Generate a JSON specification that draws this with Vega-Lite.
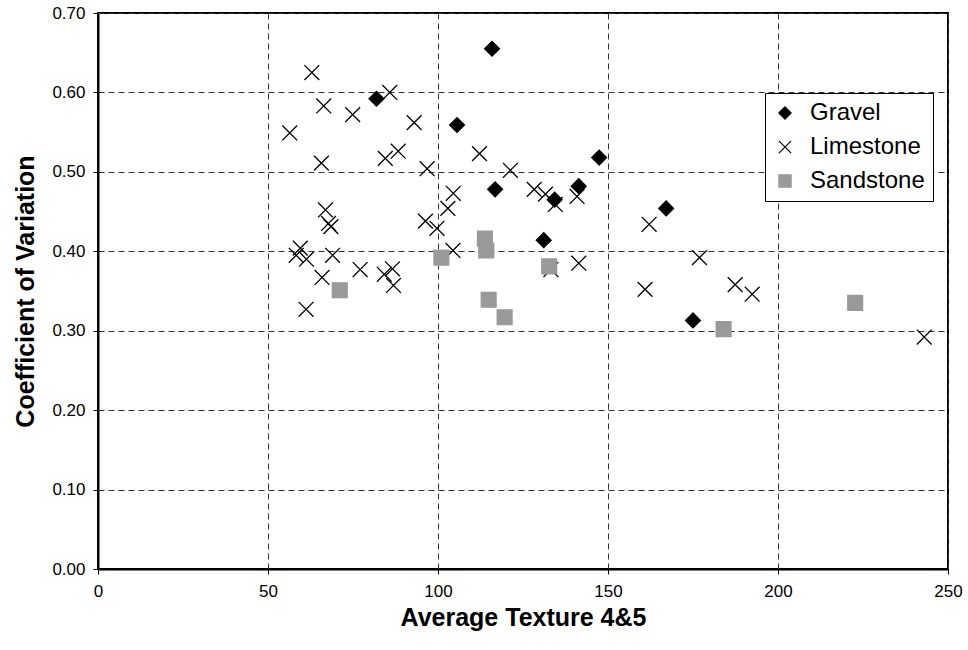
{
  "$schema": "https://vega.github.io/schema/vega-lite/v6.json",
  "width": 850,
  "height": 556,
  "autosize": {"type": "none"},
  "padding": {"left": 98, "top": 13, "right": 20, "bottom": 81},
  "background": "white",
  "config": {
    "font": "Liberation Sans",
    "view": {"stroke": "black", "strokeWidth": 2},
    "axis": {
      "labelFont": "Liberation Sans",
      "labelFontSize": 17,
      "labelColor": "black",
      "titleFont": "Liberation Sans",
      "titleFontSize": 25,
      "titleFontWeight": "bold",
      "titleColor": "black",
      "domainColor": "black",
      "domainWidth": 2,
      "tickColor": "black",
      "tickSize": 5,
      "tickWidth": 1,
      "gridColor": "#333333",
      "gridDash": [6, 4],
      "gridWidth": 1,
      "gridOpacity": 1
    },
    "legend": {
      "labelFont": "Liberation Sans",
      "labelFontSize": 24,
      "labelColor": "black"
    }
  },
  "data": {
    "values": [
      {"rock": "Gravel", "texture": 81.9, "cv": 0.592},
      {"rock": "Gravel", "texture": 105.6, "cv": 0.559},
      {"rock": "Gravel", "texture": 115.9, "cv": 0.655},
      {"rock": "Gravel", "texture": 116.8, "cv": 0.478},
      {"rock": "Gravel", "texture": 131.1, "cv": 0.414},
      {"rock": "Gravel", "texture": 134.3, "cv": 0.465},
      {"rock": "Gravel", "texture": 141.4, "cv": 0.482},
      {"rock": "Gravel", "texture": 147.4, "cv": 0.518},
      {"rock": "Gravel", "texture": 167.1, "cv": 0.454},
      {"rock": "Gravel", "texture": 175.0, "cv": 0.313},
      {"rock": "Limestone", "texture": 56.4, "cv": 0.549},
      {"rock": "Limestone", "texture": 62.9, "cv": 0.625},
      {"rock": "Limestone", "texture": 66.4, "cv": 0.583},
      {"rock": "Limestone", "texture": 74.9, "cv": 0.572},
      {"rock": "Limestone", "texture": 85.8, "cv": 0.600},
      {"rock": "Limestone", "texture": 93.0, "cv": 0.562},
      {"rock": "Limestone", "texture": 88.3, "cv": 0.526},
      {"rock": "Limestone", "texture": 84.5, "cv": 0.517},
      {"rock": "Limestone", "texture": 65.7, "cv": 0.511},
      {"rock": "Limestone", "texture": 112.2, "cv": 0.523},
      {"rock": "Limestone", "texture": 96.8, "cv": 0.504},
      {"rock": "Limestone", "texture": 104.5, "cv": 0.473},
      {"rock": "Limestone", "texture": 102.9, "cv": 0.454},
      {"rock": "Limestone", "texture": 66.9, "cv": 0.452},
      {"rock": "Limestone", "texture": 67.8, "cv": 0.435},
      {"rock": "Limestone", "texture": 68.5, "cv": 0.431},
      {"rock": "Limestone", "texture": 96.3, "cv": 0.438},
      {"rock": "Limestone", "texture": 99.7, "cv": 0.429},
      {"rock": "Limestone", "texture": 104.4, "cv": 0.401},
      {"rock": "Limestone", "texture": 58.3, "cv": 0.395},
      {"rock": "Limestone", "texture": 59.5, "cv": 0.404},
      {"rock": "Limestone", "texture": 61.3, "cv": 0.390},
      {"rock": "Limestone", "texture": 69.0, "cv": 0.395},
      {"rock": "Limestone", "texture": 65.9, "cv": 0.367},
      {"rock": "Limestone", "texture": 77.1, "cv": 0.377},
      {"rock": "Limestone", "texture": 84.2, "cv": 0.371},
      {"rock": "Limestone", "texture": 86.6, "cv": 0.378},
      {"rock": "Limestone", "texture": 86.9, "cv": 0.357},
      {"rock": "Limestone", "texture": 61.2, "cv": 0.327},
      {"rock": "Limestone", "texture": 121.3, "cv": 0.502},
      {"rock": "Limestone", "texture": 128.3, "cv": 0.478},
      {"rock": "Limestone", "texture": 131.6, "cv": 0.472},
      {"rock": "Limestone", "texture": 134.5, "cv": 0.459},
      {"rock": "Limestone", "texture": 140.9, "cv": 0.469},
      {"rock": "Limestone", "texture": 133.2, "cv": 0.377},
      {"rock": "Limestone", "texture": 141.4, "cv": 0.385},
      {"rock": "Limestone", "texture": 162.1, "cv": 0.434},
      {"rock": "Limestone", "texture": 176.9, "cv": 0.392},
      {"rock": "Limestone", "texture": 160.9, "cv": 0.352},
      {"rock": "Limestone", "texture": 187.4, "cv": 0.358},
      {"rock": "Limestone", "texture": 192.4, "cv": 0.346},
      {"rock": "Limestone", "texture": 243.0, "cv": 0.292},
      {"rock": "Sandstone", "texture": 71.1, "cv": 0.351},
      {"rock": "Sandstone", "texture": 101.0, "cv": 0.392},
      {"rock": "Sandstone", "texture": 113.8, "cv": 0.416},
      {"rock": "Sandstone", "texture": 114.2, "cv": 0.401},
      {"rock": "Sandstone", "texture": 114.9, "cv": 0.339},
      {"rock": "Sandstone", "texture": 119.6, "cv": 0.317},
      {"rock": "Sandstone", "texture": 132.7, "cv": 0.381},
      {"rock": "Sandstone", "texture": 184.0, "cv": 0.302},
      {"rock": "Sandstone", "texture": 222.7, "cv": 0.335}
    ]
  },
  "mark": {"type": "point", "size": 220, "strokeWidth": 1.3, "opacity": 1},
  "encoding": {
    "x": {
      "field": "texture",
      "type": "quantitative",
      "title": "Average Texture 4&5",
      "scale": {"domain": [0, 250], "nice": false, "zero": false},
      "axis": {"values": [0, 50, 100, 150, 200, 250], "labelPadding": 9, "titlePadding": 6, "labelFlush": false}
    },
    "y": {
      "field": "cv",
      "type": "quantitative",
      "title": "Coefficient of Variation",
      "scale": {"domain": [0, 0.7], "nice": false},
      "axis": {"values": [0, 0.1, 0.2, 0.3, 0.4, 0.5, 0.6, 0.7], "format": ".2f", "labelPadding": 8, "titlePadding": 13, "labelFlush": false}
    },
    "shape": {
      "field": "rock",
      "type": "nominal",
      "title": null,
      "scale": {"domain": ["Gravel", "Limestone", "Sandstone"], "range": ["diamond", "M-1,-1L1,1M-1,1L1,-1", "square"]},
      "legend": {
        "orient": "none",
        "legendX": 667,
        "legendY": 80,
        "strokeColor": "black",
        "fillColor": "white",
        "padding": 8,
        "rowPadding": 10,
        "labelOffset": 13,
        "symbolSize": 150,
        "symbolStrokeWidth": 1.2
      }
    },
    "fill": {
      "field": "rock",
      "type": "nominal",
      "title": null,
      "scale": {"domain": ["Gravel", "Limestone", "Sandstone"], "range": ["black", "transparent", "#999999"]}
    },
    "stroke": {
      "field": "rock",
      "type": "nominal",
      "title": null,
      "scale": {"domain": ["Gravel", "Limestone", "Sandstone"], "range": ["black", "black", "#999999"]}
    }
  }
}
